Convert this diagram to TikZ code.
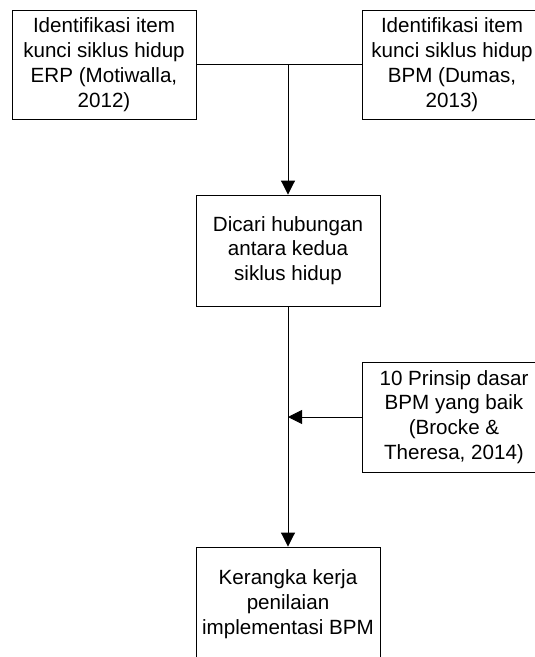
\documentclass[tikz,border=0pt]{standalone}
\usepackage{fontspec}
\setmainfont{Liberation Sans}
\usetikzlibrary{arrows.meta}
\begin{document}
\begin{tikzpicture}[x=1pt,y=-1pt,
  box/.style={draw=black, line width=0.9pt, align=center, inner sep=0pt,
              minimum width=184pt, font=\fontsize{20.6}{24.8}\selectfont},
  link/.style={draw=black, line width=0.9pt},
  arr/.style={link, -{Triangle[length=14pt,width=14pt]}}]
\clip (0,0) rectangle (535,657);
\fill[white] (0,0) rectangle (535,657);

% source boxes
\node[box, minimum height=109pt] (erp) at (104,64.5)
  {Identifikasi item\\kunci siklus hidup\\ERP (Motiwalla,\\2012)};
\node[box, minimum height=109pt, minimum width=180pt] (bpm) at (452,64.5)
  {Identifikasi item\\kunci siklus hidup\\BPM (Dumas,\\2013)};

% middle step
\node[box, minimum height=111pt] (rel) at (288,250.5)
  {Dicari hubungan\\antara kedua\\siklus hidup};

% principles input
\node[box, minimum height=110pt] (pr) at (454,417)
  {10 Prinsip dasar\\BPM yang baik\\(Brocke \&\\Theresa, 2014)};

% result
\node[box, minimum height=114pt] (fw) at (288,604)
  {Kerangka kerja\\penilaian\\implementasi BPM};

% connectors
\coordinate (j) at (288,64.5);
\coordinate (m) at (288,417);
\draw[link] (erp.east) -- (bpm.west);
\draw[arr] (j) -- (rel.north);
\draw[arr] (rel.south) -- (fw.north);
\draw[arr] (pr.west) -- (m);
\end{tikzpicture}
\end{document}
